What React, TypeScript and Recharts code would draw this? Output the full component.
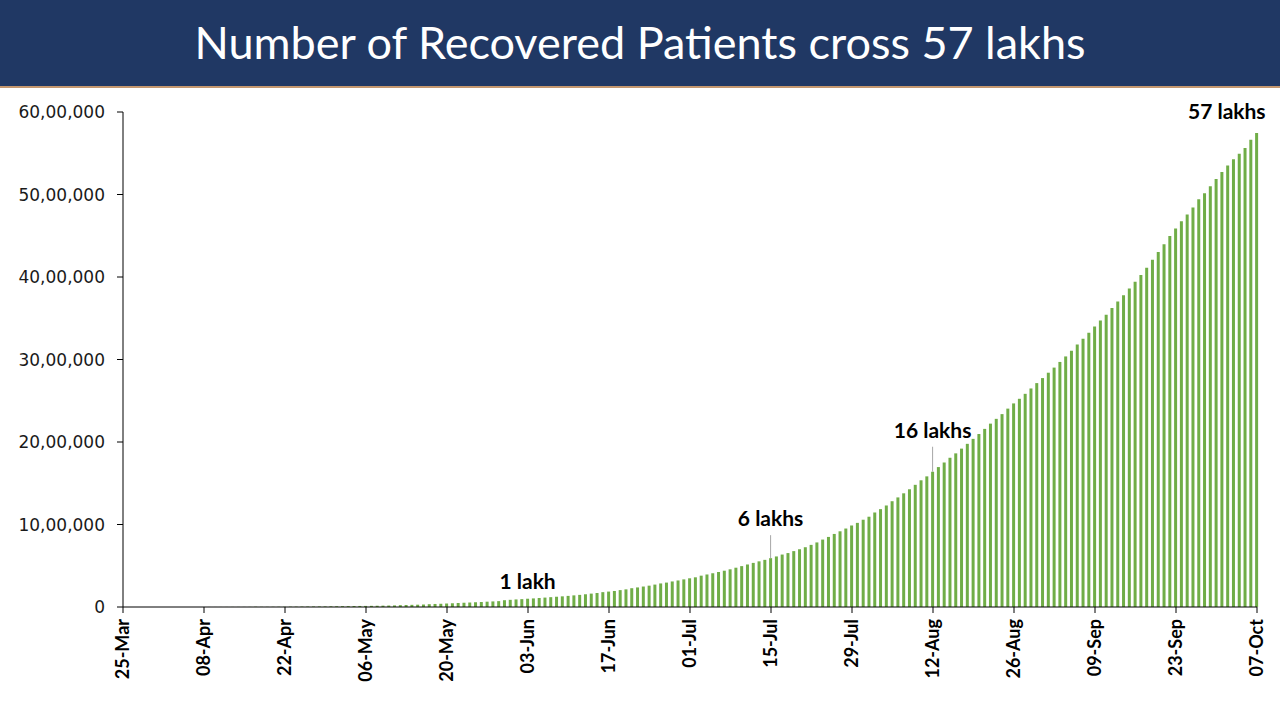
import React from 'react';
import { BarChart, Bar, XAxis, YAxis, LabelList } from 'recharts';

// cumulative recovered patients, in thousands, one value per day
const marValues = [0.04, 0.04, 0.05, 0.08, 0.1, 0.12, 0.14];
const aprValues = [
  0.15, 0.16, 0.19, 0.23, 0.27, 0.29, 0.33, 0.4, 0.47, 0.57, 0.72, 0.86, 1.03, 1.19, 1.31,
  1.49, 1.75, 2.02, 2.23, 2.55, 2.85, 3.25, 3.87, 4.26, 5.06, 5.8, 6.18, 6.52, 7.03, 8.32,
];
const mayValues = [
  9.06, 10.02, 10.63, 11.71, 12.73, 13.16, 14.18, 15.27, 16.54, 17.85, 19.36, 22.45, 24.39,
  26.24, 27.92, 30.15, 34.11, 36.82, 39.17, 42.3, 45.3, 48.53, 51.78, 54.44, 57.72, 60.49,
  64.43, 67.69, 71.11, 82.37, 86.98,
];
const junValues = [
  91.82, 95.53, 100.3, 104.11, 109.46, 114.07, 119.29, 124.43, 129.22, 134.67, 141.03, 146.97,
  154.33, 162.38, 169.8, 180.01, 186.94, 194.32, 204.71, 213.83, 227.76, 237.2, 248.19, 258.69,
  271.7, 285.64, 295.88, 309.71, 321.72, 334.82,
];
const julValues = [
  347.98, 359.86, 379.89, 394.23, 409.08, 424.43, 439.95, 456.83, 476.38, 495.51, 515.39,
  534.62, 553.47, 571.46, 592.03, 612.81, 635.76, 653.75, 677.42, 700.09, 724.58, 753.05,
  782.61, 817.21, 849.43, 885.58, 917.57, 951.17, 988.03, 1019.73, 1057.81,
];
const augValues = [
  1094.37, 1145.63, 1186.2, 1230.51, 1282.21, 1328.34, 1378.1, 1427.01, 1480.88, 1535.74,
  1583.49, 1639.6, 1695.98, 1751.55, 1808.94, 1862.26, 1919.84, 1977.78, 2037.87, 2096.66,
  2158.95, 2222.58, 2280.56, 2338.03, 2404.59, 2467.76, 2523.77, 2583.95, 2648.99, 2713.93,
  2774.8,
];
const sepValues = [
  2839.88, 2901.91, 2970.49, 3037.15, 3107.22, 3180.86, 3250.43, 3323.95, 3398.84, 3471.78,
  3542.66, 3624.2, 3702.6, 3780.1, 3859.4, 3942.36, 4025.08, 4112.55, 4208.43, 4303.04,
  4396.4, 4497.87, 4587.61, 4674.98, 4756.16, 4841.98, 4941.63, 5016.52, 5101.4, 5187.83,
];
const octValues = [5273.2, 5352.07, 5427.7, 5494.67, 5562.66, 5662.27, 5744.69];

const tickLabels = [
  '25-Mar', '08-Apr', '22-Apr', '06-May', '20-May', '03-Jun', '17-Jun', '01-Jul',
  '15-Jul', '29-Jul', '12-Aug', '26-Aug', '09-Sep', '23-Sep', '07-Oct',
];
const yTicks = [0, 1000000, 2000000, 3000000, 4000000, 5000000, 6000000];

// day index of the labelled bars
const annotations = [
  { idx: 70, text: '1 lakh', line: 0 },
  { idx: 112, text: '6 lakhs', line: 23 },
  { idx: 140, text: '16 lakhs', line: 25 },
  { idx: 196, text: '57 lakhs', line: 0 },
];

const allValues = [
  ...marValues, ...aprValues, ...mayValues, ...junValues,
  ...julValues, ...augValues, ...sepValues, ...octValues,
];
const chartData = allValues.map((v, i) => ({ idx: i, recovered: Math.round(v * 1000) }));
const lastIdx = chartData.length - 1;
const xTicks = tickLabels.map((_, i) => i * 14);

const indianFormat = (n: number) => n.toLocaleString('en-IN');

const DateTick = (props: any) => {
  const { x, y, payload } = props;
  return (
    <g transform={`translate(${x},${y})`}>
      <text
        transform="rotate(-90)"
        x={-4}
        dy="0.36em"
        textAnchor="end"
        fontSize={18}
        fontWeight={700}
        fill="#000"
        fontFamily="Lato, 'Open Sans', sans-serif"
      >
        {tickLabels[payload.value / 14]}
      </text>
    </g>
  );
};

const AnnotationLabel = (props: any) => {
  const { x, y, width, index } = props;
  const a = annotations.find(item => item.idx === index);
  if (!a) return null;
  const cx = x + width / 2;
  const last = index === lastIdx;
  const textY = y - a.line - (a.line ? 9 : 10);
  return (
    <g>
      {a.line > 0 && (
        <line x1={cx} x2={cx} y1={y - a.line} y2={y} stroke="#A6A6A6" strokeWidth={1} />
      )}
      <text
        x={last ? cx + 9 : cx}
        y={last ? y - 14 : textY}
        textAnchor={last ? 'end' : 'middle'}
        fontSize={21}
        fontWeight={700}
        fill="#000"
        fontFamily="Lato, 'Open Sans', sans-serif"
      >
        {a.text}
      </text>
    </g>
  );
};

export default function App() {
  return (
    <div style={{ position: 'absolute', left: 0, top: 0, width: 1280, height: 719, background: '#fff' }}>
      <div
        style={{
          height: 86,
          background: '#203864',
          borderBottom: '2px solid #C4976F',
          color: '#fff',
          textAlign: 'center',
          lineHeight: '84px',
          fontSize: 45,
          fontFamily: "Lato, 'Open Sans', sans-serif",
        }}
      >
        Number of Recovered Patients cross 57 lakhs
      </div>
      <BarChart
        width={1280}
        height={631}
        data={chartData}
        margin={{ top: 24, right: 23, left: 0, bottom: 0 }}
      >
        <XAxis
          dataKey="idx"
          type="number"
          domain={[0, lastIdx]}
          ticks={xTicks}
          interval={0}
          height={112}
          tickSize={6}
          tickMargin={2}
          stroke="#000"
          tick={<DateTick />}
        />
        <YAxis
          width={123}
          domain={[0, 6000000]}
          ticks={yTicks}
          tickFormatter={indianFormat}
          tickSize={6}
          tickMargin={12}
          stroke="#000"
          tick={{ fontSize: 17, fill: '#1a1a1a', fontFamily: "'DejaVu Sans', sans-serif" }}
        />
        <Bar dataKey="recovered" fill="#70AD47" barSize={3} isAnimationActive={false}>
          <LabelList dataKey="recovered" content={<AnnotationLabel />} />
        </Bar>
      </BarChart>
    </div>
  );
}
